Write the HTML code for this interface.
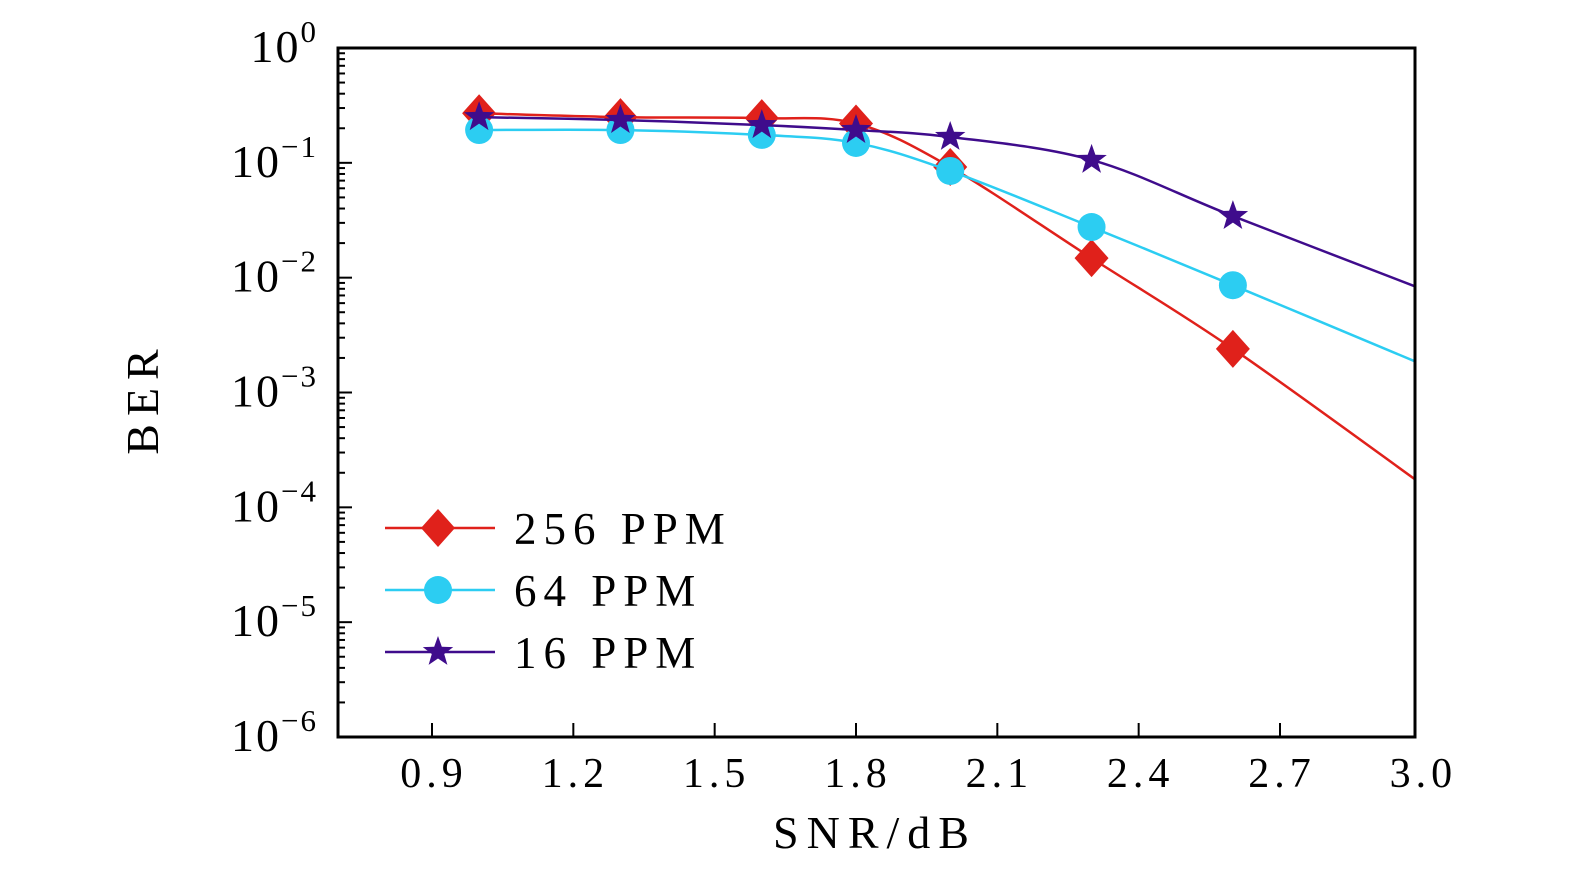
<!DOCTYPE html>
<html><head><meta charset="utf-8"><style>
html,body{margin:0;padding:0;background:#fff;}
svg{display:block;font-family:"Liberation Serif",serif;}
</style></head><body>
<svg id="chart" width="1575" height="875" viewBox="0 0 1575 875" xmlns="http://www.w3.org/2000/svg"></svg>
<script>
const xValues = [1.0, 1.3, 1.6, 1.8, 2.0, 2.3, 2.6, 3.0];
const ber256 = [0.27, 0.25, 0.245, 0.22, 0.092, 0.0148, 0.0024, 0.00016];
const ber64 = [0.193, 0.193, 0.175, 0.149, 0.085, 0.0276, 0.0086, 0.00177];
const ber16 = [0.25, 0.236, 0.213, 0.193, 0.168, 0.106, 0.0344, 0.0080];
const xTicks = [0.9, 1.2, 1.5, 1.8, 2.1, 2.4, 2.7, 3.0];
const xTickLabels = ["0.9", "1.2", "1.5", "1.8", "2.1", "2.4", "2.7", "3.0"];
const yExponents = [0, -1, -2, -3, -4, -5, -6];
const seriesNames = ["256 PPM", "64 PPM", "16 PPM"];

const NS = "http://www.w3.org/2000/svg";
const svg = document.getElementById('chart');
const L = 338, R = 1415, T = 48, B = 737;
const sx = v => 432 + (v - 0.9) * (1280 - 432) / 1.8;
const sy = v => T + (-Math.log10(v)) * (B - T) / 6;
function mk(tag, attrs, parent) {
  const e = document.createElementNS(NS, tag);
  for (const k in attrs) e.setAttribute(k, attrs[k]);
  (parent || svg).appendChild(e);
  return e;
}
const defs = mk('defs', {});
const cp = mk('clipPath', {id: 'clip'}, defs);
mk('rect', {x: L, y: T, width: R - L, height: B - T}, cp);

const ticks = mk('g', {stroke: '#000', 'stroke-width': 2});


xTicks.forEach((v, i) => {
  const x = sx(v);
  if (x <= R + 1) mk('line', {x1: x, y1: B, x2: x, y2: B - 14}, ticks);
  const t = mk('text', {x: x + 2, y: 787, 'font-size': 42, 'letter-spacing': 5, 'text-anchor': 'middle', stroke: 'none', fill: '#000'});
  t.textContent = xTickLabels[i];
  
  
});
yExponents.forEach(e => {
  const y = sy(Math.pow(10, e));
  mk('line', {x1: L, y1: y, x2: L + 14, y2: y}, ticks);
  if (e > -6) for (let m = 2; m <= 9; m++) {
    const yy = sy(m * Math.pow(10, e - 1));
    mk('line', {x1: L, y1: yy, x2: L + 7, y2: yy}, ticks);
  }
  const t = mk('text', {x: 318, y: y + 14, 'font-size': 46, 'letter-spacing': 2, 'text-anchor': 'end', stroke: 'none', fill: '#000'});
  
  
  const b = mk('tspan', {}, t); b.textContent = '10';
  const s = mk('tspan', {dy: -20, 'font-size': 31}, t); s.textContent = (e === 0 ? '0' : '\u2212' + (-e));
});

function smoothPath(xs, ys) {
  const p = xs.map((x, i) => [sx(x), sy(ys[i])]);
  let d = 'M' + p[0][0] + ',' + p[0][1];
  for (let i = 0; i < p.length - 1; i++) {
    const p0 = p[Math.max(0, i - 1)], p1 = p[i], p2 = p[i + 1], p3 = p[Math.min(p.length - 1, i + 2)];
    const c1 = [p1[0] + (p2[0] - p0[0]) / 6, p1[1] + (p2[1] - p0[1]) / 6];
    const c2 = [p2[0] - (p3[0] - p1[0]) / 6, p2[1] - (p3[1] - p1[1]) / 6];
    d += ' C' + c1 + ' ' + c2 + ' ' + p2;
  }
  return d;
}
function marker(type, x, y, color, parent) {
  if (type === 'diamond') return mk('polygon', {points: `${x},${y-19} ${x+17},${y} ${x},${y+19} ${x-17},${y}`, fill: color}, parent);
  if (type === 'circle') return mk('circle', {cx: x, cy: y, r: 14, fill: color}, parent);
  let pts = [];
  for (let k = 0; k < 10; k++) {
    const r = k % 2 ? 6.5 : 16, a = -Math.PI / 2 + k * Math.PI / 5;
    pts.push((x + r * Math.cos(a)).toFixed(1) + ',' + (y + r * Math.sin(a)).toFixed(1));
  }
  return mk('polygon', {points: pts.join(' '), fill: color}, parent);
}
const series = [
  {vals: ber256, color: '#e0211b', type: 'diamond', name: 'series-256-ppm'},
  {vals: ber64, color: '#2ccdf2', type: 'circle', name: 'series-64-ppm'},
  {vals: ber16, color: '#3f0c8c', type: 'star', name: 'series-16-ppm'}
];
series.forEach(s => {
  const g = mk('g', {'clip-path': 'url(#clip)'});
  
  
  mk('path', {d: smoothPath(xValues, s.vals), fill: 'none', stroke: s.color, 'stroke-width': 2.5}, g);
  xValues.forEach((x, i) => {
    if (x >= 2.95) return;
    const m = marker(s.type, sx(x), sy(s.vals[i]), s.color, g);
    
    
  });
});
const frame = mk('rect', {x: L, y: T, width: R - L, height: B - T, fill: 'none', stroke: '#000', 'stroke-width': 3});



const lg = mk('g', {});


series.forEach((s, i) => {
  const y = 528 + i * 62;
  const e = mk('g', {}, lg);
  
  
  mk('line', {x1: 385, y1: y, x2: 495, y2: y, stroke: s.color, 'stroke-width': 2.5}, e);
  marker(s.type, 438, y, s.color, e);
  const t = mk('text', {x: 514, y: y + 16, 'font-size': 45, 'letter-spacing': 7, fill: '#000'}, e);
  t.textContent = seriesNames[i];
});

const xt = mk('text', {x: 875, y: 848, 'font-size': 46, 'letter-spacing': 8, 'text-anchor': 'middle'});
xt.textContent = 'SNR/dB';


const yt = mk('text', {x: 0, y: 0, 'font-size': 46, 'letter-spacing': 8, 'text-anchor': 'middle', transform: 'translate(158,398) rotate(-90)'});
yt.textContent = 'BER';


</script>
</body></html>
